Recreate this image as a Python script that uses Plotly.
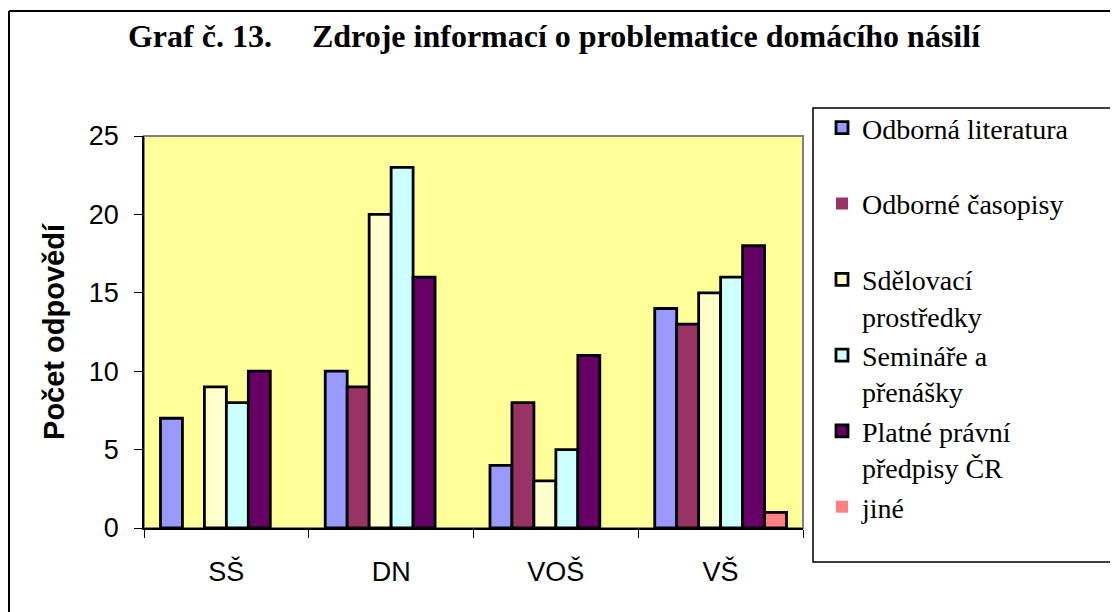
import plotly.graph_objects as go

categories = ["SŠ", "DN", "VOŠ", "VŠ"]
legend_labels = [
    "Odborná literatura<br>\u00a0",
    "Odborné časopisy<br>\u00a0",
    "Sdělovací<br>prostředky",
    "Semináře a<br>přenášky",
    "Platné právní<br>předpisy ČR",
    "jiné",
]
odborna_literatura = [7, 10, 4, 14]
odborne_casopisy = [0, 9, 8, 13]
sdelovaci_prostredky = [9, 20, 3, 15]
seminare_prednasky = [8, 23, 5, 16]
platne_predpisy = [10, 16, 11, 18]
jine = [0, 0, 0, 1]
y_ticks = [0, 5, 10, 15, 20, 25]

series = [odborna_literatura, odborne_casopisy, sdelovaci_prostredky,
          seminare_prednasky, platne_predpisy, jine]
colors = ["#9999FF", "#993366", "#FFFFCC", "#CCFFFF", "#660066", "#FF8080"]

OFF = 8  # page body margin
W, H = 1118 - OFF, 612 - OFF
L, R, T, B = 144 - OFF, 803 - OFF, 136 - OFF, 528 - OFF


def px_x(p):
    return (p - OFF - L) / (R - L)


def px_y(p):
    return (B - (p - OFF)) / (B - T)


fig = go.Figure()
for name, vals, col in zip(legend_labels, series, colors):
    fig.add_trace(go.Bar(
        x=categories, y=vals, name=name,
        marker=dict(color=col,
                    line=dict(color="black", width=[2.8 if v > 0 else 0 for v in vals])),
    ))

fig.update_layout(
    width=W, height=H,
    margin=dict(l=L, r=W - R, t=T, b=H - B, autoexpand=False),
    paper_bgcolor="white",
    plot_bgcolor="#FFFF99",
    barmode="group", bargap=0.2, bargroupgap=0,
    title=dict(
        text="Graf č. 13.\u00a0\u00a0\u00a0\u00a0\u00a0Zdroje informací o problematice domácího násilí",
        font=dict(family="Liberation Serif", size=32, color="black", weight="bold"),
        xref="container", x=(554 - OFF) / W, xanchor="center",
        yref="container", y=1 - (36 - OFF) / H, yanchor="middle",
    ),
    legend=dict(
        xref="container", yref="container",
        x=(822 - OFF) / W, y=1 - (103 - OFF) / H, xanchor="left", yanchor="top",
        font=dict(family="Liberation Serif", size=28, color="black"),
        bgcolor="rgba(0,0,0,0)", borderwidth=0,
        valign="top", traceorder="normal", maxheight=560,
    ),
    showlegend=True,
)

fig.update_xaxes(
    showline=True, linecolor="black", linewidth=1.5,
    ticks="outside", tickson="boundaries", ticklen=8, tickcolor="black",
    tickfont=dict(family="Liberation Sans", size=27, color="black"),
    ticklabelstandoff=19,
    showgrid=False, zeroline=False,
)
fig.update_yaxes(
    range=[0, 25], tickvals=y_ticks,
    showline=True, linecolor="black", linewidth=1.5,
    ticks="outside", ticklen=8, tickcolor="black",
    tickfont=dict(family="Liberation Sans", size=27, color="black"),
    ticklabelstandoff=10,
    showgrid=False, zeroline=False,
    title=dict(text="Počet odpovědí", standoff=16,
               font=dict(family="Liberation Sans", size=29, color="black", weight="bold")),
)

# plot area border (gray top/right)
fig.add_shape(type="rect", xref="paper", yref="paper", x0=0, x1=1, y0=0, y1=1,
              line=dict(color="#808080", width=2), layer="below")
# legend box
fig.add_shape(type="rect", xref="paper", yref="paper",
              x0=px_x(813), x1=px_x(1112), y0=px_y(562), y1=px_y(108),
              line=dict(color="black", width=1.5), fillcolor="rgba(0,0,0,0)")
# outer chart border (top and left visible)
fig.add_shape(type="line", xref="paper", yref="paper",
              x0=px_x(9), x1=px_x(1130), y0=px_y(11), y1=px_y(11),
              line=dict(color="black", width=2))
fig.add_shape(type="line", xref="paper", yref="paper",
              x0=px_x(9), x1=px_x(9), y0=px_y(11), y1=px_y(630),
              line=dict(color="black", width=2))

fig.write_html("out.html")
